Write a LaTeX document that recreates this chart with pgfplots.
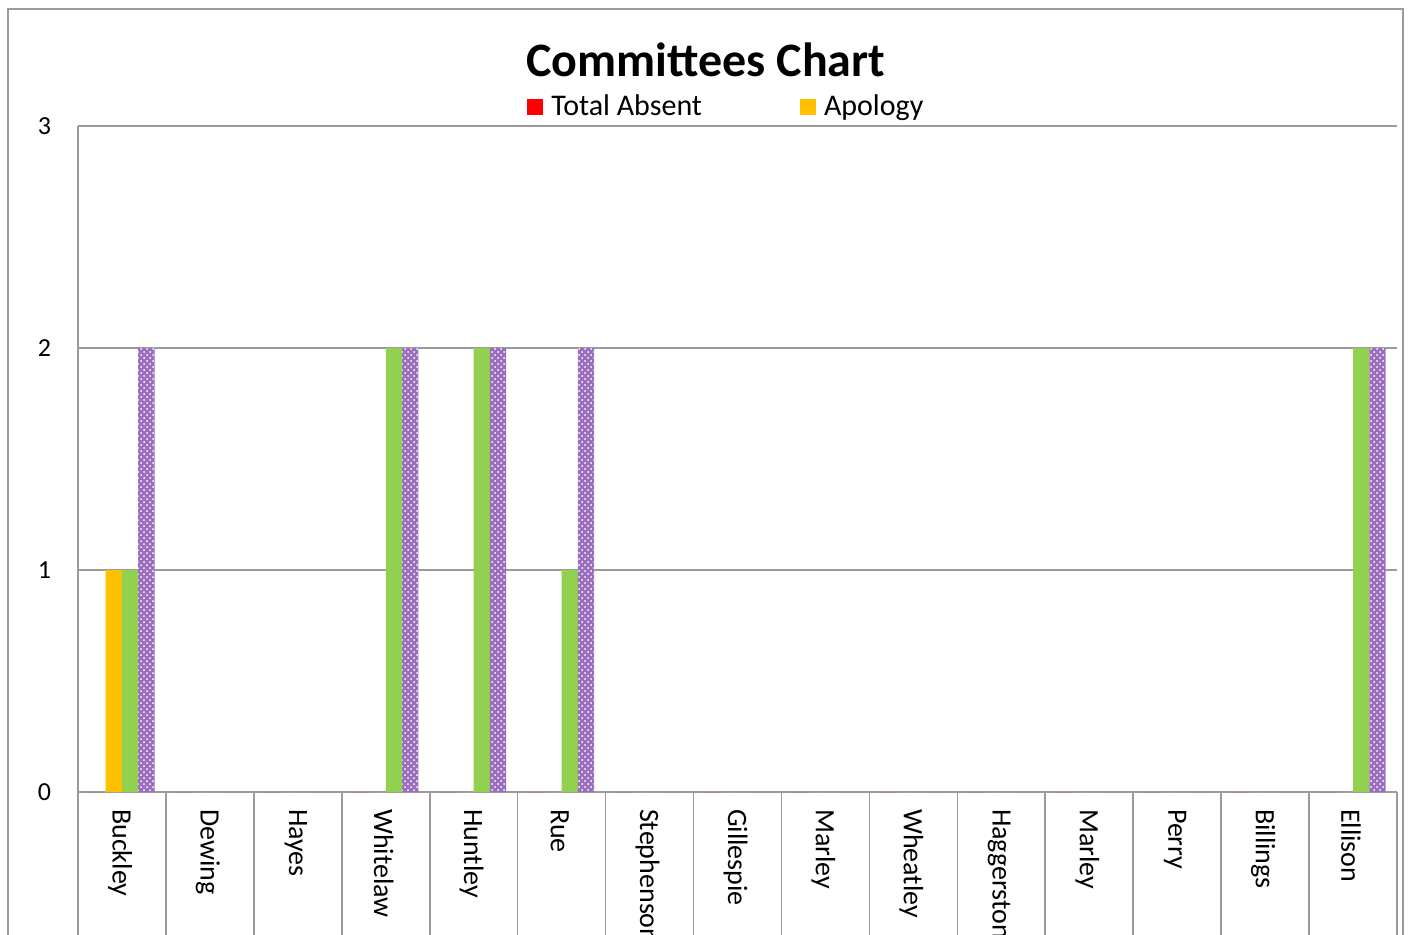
\documentclass[border=0pt]{standalone}
\usepackage{pgfplots}
\pgfplotsset{compat=1.18}
\usepackage{fontspec}
\setmainfont{Carlito}
\usetikzlibrary{patterns}
\definecolor{cred}{RGB}{255,0,0}
\definecolor{corange}{RGB}{255,192,0}
\definecolor{cgreen}{RGB}{146,208,80}
\definecolor{cpurple}{RGB}{112,48,160}
\definecolor{lgray}{RGB}{155,155,155}
\begin{document}
\begin{tikzpicture}
\useasboundingbox (0,0) rectangle (705pt,-467pt);
\clip (0,0) rectangle (705pt,-467pt);
\draw[lgray, line width=0.8pt] (4pt,-480pt) -- (4pt,-4.5pt) -- (701.5pt,-4.5pt) -- (701.5pt,-480pt);
\node[font=\bfseries\fontsize{24}{28}\selectfont] at (353pt,-30pt) {Committees Chart};
\begin{axis}[
  at={(39pt,-396pt)}, anchor=south west,
  width=659.5pt, height=333pt, scale only axis,
  ybar, bar width=0.185,
  xmin=-0.5, xmax=14.5, ymin=0, ymax=3,
  ytick={0,1,2,3},
  xtick={0,...,14},
  xticklabels={Buckley,Dewing,Hayes,Whitelaw,Huntley,Rue,Stephenson,Gillespie,Marley,Wheatley,Haggerston,Marley,Perry,Billings,Ellison},
  xticklabel style={rotate=-90, anchor=west, font=\fontsize{14}{16}\selectfont, xshift=5pt, yshift=-1pt},
  yticklabel style={font=\fontsize{13}{15}\selectfont, xshift=-10pt},
  /pgf/number format/assume math mode=true,
  major tick length=0pt,
  extra x ticks={-0.5,0.5,...,14.5},
  extra x tick labels={},
  extra x tick style={major tick length=200pt, tick align=outside, grid=none, tick style={lgray, line width=0.8pt}},
  axis x line*=bottom, axis y line*=left,
  axis line style={lgray, line width=0.8pt},
  ymajorgrids, grid style={lgray, line width=0.8pt},
  clip=false,
  legend columns=2,
  legend style={at={(0.3404,1.0285)}, anchor=west, draw=none, fill=none, inner sep=0pt,
    font=\fontsize{15}{17}\selectfont,
    /tikz/every odd column/.append style={column sep=2pt},
    /tikz/every even column/.append style={column sep=47pt}},
  legend image code/.code={\fill[#1] (0pt,-4pt) rectangle (8pt,4pt);},
]
\addplot[fill=cred, draw=none, bar shift=-0.2775] coordinates {(0,0) (1,0) (2,0) (3,0) (4,0) (5,0) (6,0) (7,0) (8,0) (9,0) (10,0) (11,0) (12,0) (13,0) (14,0)};
\addlegendentry{Total Absent}
\addplot[fill=corange, draw=none, bar shift=-0.0925] coordinates {(0,1) (1,0) (2,0) (3,0) (4,0) (5,0) (6,0) (7,0) (8,0) (9,0) (10,0) (11,0) (12,0) (13,0) (14,0)};
\addlegendentry{Apology}
\addplot[fill=cgreen, draw=none, bar shift=0.0925, forget plot] coordinates {(0,1) (1,0) (2,0) (3,2) (4,2) (5,1) (6,0) (7,0) (8,0) (9,0) (10,0) (11,0) (12,0) (13,0) (14,2)};
\addplot[fill=cpurple!70, draw=none, bar shift=0.2775, postaction={pattern=crosshatch dots, pattern color=white}, forget plot] coordinates {(0,2) (1,0) (2,0) (3,2) (4,2) (5,2) (6,0) (7,0) (8,0) (9,0) (10,0) (11,0) (12,0) (13,0) (14,2)};
\end{axis}
\end{tikzpicture}
\end{document}
